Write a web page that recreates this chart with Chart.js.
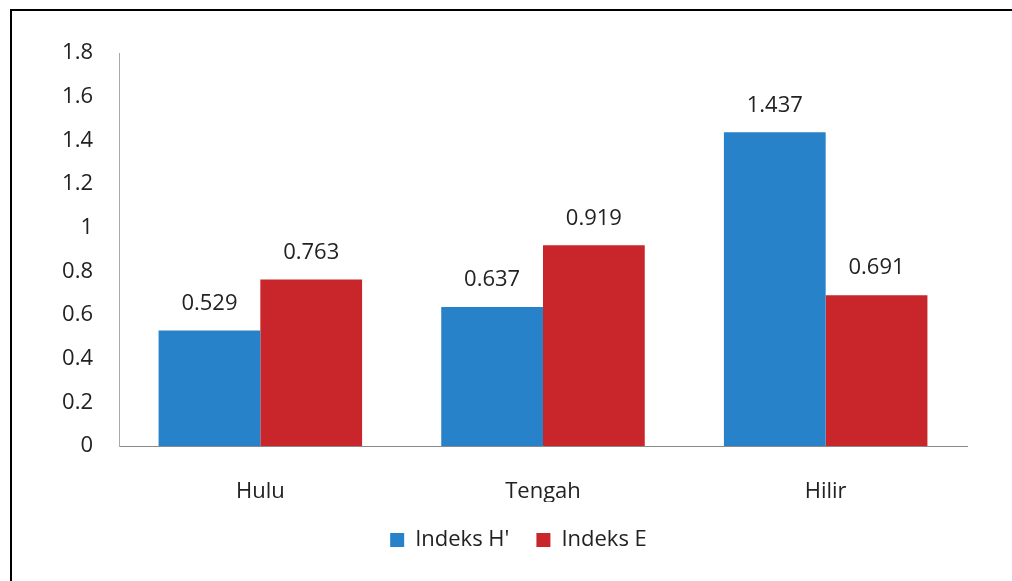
<!DOCTYPE html>
<html>
<head>
<meta charset="utf-8">
<script src="https://cdn.jsdelivr.net/npm/chart.js@4/dist/chart.umd.min.js"></script>
<style>
  html, body { margin: 0; padding: 0; background: #fff; }
  #wrap { width: 1012px; height: 581px; }
</style>
</head>
<body>
<div id="wrap"><canvas id="indeks-chart" width="1012" height="581"></canvas></div>
<script>
let indeksCtx = document.getElementById("indeks-chart").getContext("2d");

let stations = ["Hulu", "Tengah", "Hilir"];
let indeksH = [0.529, 0.637, 1.437];
let indeksE = [0.763, 0.919, 0.691];
let yMax = 1.8;
let yStep = 0.2;

let fontFamily = "'Open Sans', sans-serif";
let textColor = "#222";

// black frame along the top and left edge, and legend nudged right
let framePlugin = {
    id: "frame",
    beforeDraw(chart) {
        let c = chart.ctx;
        c.save();
        c.fillStyle = "#fff";
        c.fillRect(0, 0, chart.width, chart.height);
        c.fillStyle = "#000";
        c.fillRect(10, 9, chart.width - 10, 2);
        c.fillRect(10, 9, 2, chart.height - 9);
        c.restore();
        if (chart.legend) {
            chart.legend.left = 35;
            chart.legend.right = 1002;
        }
    }
};

// value written above each bar
let valueLabels = {
    id: "valueLabels",
    afterDatasetsDraw(chart) {
        let c = chart.ctx;
        c.save();
        c.font = "22px " + fontFamily;
        c.fillStyle = textColor;
        c.textAlign = "center";
        c.textBaseline = "middle";
        chart.data.datasets.forEach((ds, i) => {
            chart.getDatasetMeta(i).data.forEach((bar, j) => {
                c.fillText(ds.data[j].toFixed(3), bar.x, bar.y - 27);
            });
        });
        c.restore();
    }
};

let indeksChart = new Chart(indeksCtx, {
    type: "bar",
    data: {
        labels: stations,
        datasets: [
            {
                label: "Indeks H'",
                data: indeksH,
                backgroundColor: "#2782c9"
            },
            {
                label: "Indeks E",
                data: indeksE,
                backgroundColor: "#c9262b"
            }
        ]
    },
    options: {
        responsive: false,
        animation: false,
        devicePixelRatio: 1,
        layout: {
            padding: { top: 53, right: 45, bottom: 20, left: 0 }
        },
        datasets: {
            bar: { barPercentage: 1, categoryPercentage: 0.72 }
        },
        scales: {
            x: {
                grid: { display: false, drawTicks: false },
                border: { color: "#8a8a8a", width: 1 },
                ticks: {
                    padding: 33,
                    color: textColor,
                    font: { family: fontFamily, size: 22 }
                },
                afterFit(scale) { scale.height = 56; }
            },
            y: {
                min: 0,
                max: yMax,
                grid: { display: false, drawTicks: false },
                border: { color: "#a8a8a8", width: 1 },
                ticks: {
                    stepSize: yStep,
                    padding: 26,
                    color: textColor,
                    font: { family: fontFamily, size: 22 },
                    callback: v => String(+v.toFixed(1))
                },
                afterFit(scale) { scale.width = 119; }
            }
        },
        plugins: {
            legend: {
                position: "bottom",
                labels: {
                    boxWidth: 14,
                    boxHeight: 14,
                    padding: 27,
                    color: textColor,
                    font: { family: fontFamily, size: 22 }
                }
            },
            tooltip: { enabled: false }
        }
    },
    plugins: [framePlugin, valueLabels]
});
</script>
</body>
</html>
